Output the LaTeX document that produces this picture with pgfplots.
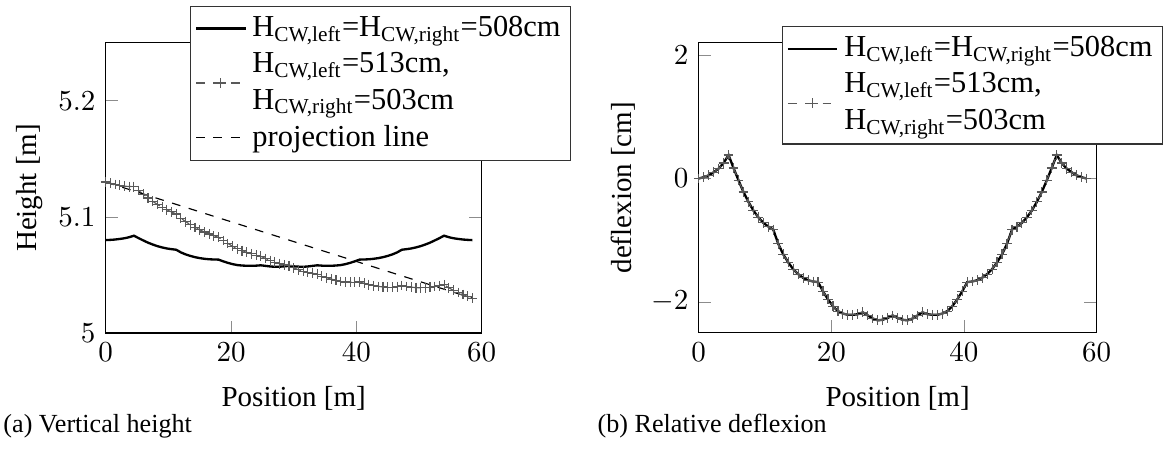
\documentclass[border=0pt]{standalone}
\usepackage{fontspec}
\setmainfont{Liberation Serif}
\usepackage{pgfplots}
\usepackage{pgfplotstable}
\pgfplotsset{compat=1.18}
\pgfplotstableread{
x d hs ha
0.00 0.00 5.0800 5.1300
0.75 0.02 5.0802 5.1289
1.50 0.05 5.0805 5.1279
2.25 0.10 5.0810 5.1272
3.00 0.16 5.0816 5.1265
3.75 0.25 5.0825 5.1261
4.50 0.38 5.0838 5.1261
5.25 0.17 5.0817 5.1227
6.00 -0.03 5.0797 5.1194
6.75 -0.22 5.0778 5.1163
7.50 -0.38 5.0762 5.1134
8.25 -0.52 5.0748 5.1107
9.00 -0.63 5.0737 5.1083
9.75 -0.72 5.0728 5.1061
10.50 -0.78 5.0722 5.1043
11.25 -0.83 5.0717 5.1025
12.00 -1.06 5.0694 5.0989
12.75 -1.23 5.0677 5.0959
13.50 -1.36 5.0664 5.0933
14.25 -1.47 5.0653 5.0909
15.00 -1.55 5.0645 5.0889
15.75 -1.61 5.0639 5.0870
16.50 -1.65 5.0635 5.0853
17.25 -1.67 5.0633 5.0838
18.00 -1.68 5.0632 5.0824
18.75 -1.83 5.0617 5.0797
19.50 -1.96 5.0604 5.0771
20.25 -2.07 5.0593 5.0747
21.00 -2.15 5.0585 5.0726
21.75 -2.19 5.0581 5.0709
22.50 -2.21 5.0579 5.0694
23.25 -2.21 5.0579 5.0682
24.00 -2.20 5.0580 5.0670
24.75 -2.17 5.0583 5.0660
25.50 -2.22 5.0578 5.0642
26.25 -2.27 5.0573 5.0624
27.00 -2.30 5.0570 5.0609
27.75 -2.29 5.0571 5.0597
28.50 -2.26 5.0574 5.0587
29.25 -2.22 5.0578 5.0578
30.00 -2.26 5.0574 5.0561
30.75 -2.29 5.0571 5.0545
31.50 -2.30 5.0570 5.0532
32.25 -2.27 5.0573 5.0522
33.00 -2.22 5.0578 5.0514
33.75 -2.17 5.0583 5.0506
34.50 -2.20 5.0580 5.0490
35.25 -2.21 5.0579 5.0476
36.00 -2.21 5.0579 5.0464
36.75 -2.19 5.0581 5.0453
37.50 -2.15 5.0585 5.0444
38.25 -2.07 5.0593 5.0439
39.00 -1.96 5.0604 5.0437
39.75 -1.83 5.0617 5.0438
40.50 -1.68 5.0632 5.0440
41.25 -1.67 5.0633 5.0428
42.00 -1.65 5.0635 5.0417
42.75 -1.61 5.0639 5.0408
43.50 -1.55 5.0645 5.0401
44.25 -1.47 5.0653 5.0397
45.00 -1.36 5.0664 5.0395
45.75 -1.23 5.0677 5.0395
46.50 -1.06 5.0694 5.0399
47.25 -0.83 5.0717 5.0409
48.00 -0.78 5.0722 5.0401
48.75 -0.72 5.0728 5.0395
49.50 -0.63 5.0737 5.0391
50.25 -0.52 5.0748 5.0389
51.00 -0.38 5.0762 5.0390
51.75 -0.22 5.0778 5.0393
52.50 -0.03 5.0797 5.0400
53.25 0.17 5.0817 5.0407
54.00 0.38 5.0838 5.0415
54.75 0.25 5.0825 5.0389
55.50 0.16 5.0816 5.0367
56.25 0.10 5.0810 5.0349
57.00 0.05 5.0805 5.0331
57.75 0.02 5.0802 5.0315
58.50 0.00 5.0800 5.0300
}\datatable
\pgfplotstableread{
x p
0 5.13
58.5 5.03
}\projtable
\pgfplotsset{
  myax/.style={
    scale only axis,
    xmin=0, xmax=60,
    xtick={0,20,40,60},
    tick style={black!45},
    tick label style={font=\fontsize{9.6}{11}\selectfont},
    label style={font=\fontsize{10}{12}\selectfont},
    every axis y label/.append style={yshift=-1.5pt},
    every axis x label/.append style={yshift=-1.7pt},
    xlabel={Position [m]},
    legend cell align=left,
    legend style={font=\fontsize{10.5}{12.6}\selectfont, draw=black!80, fill=white,
      cells={align=left}, anchor=north west, inner sep=1.5pt},
  },
  ser1/.style={black, thick, no marks},
  ser2/.style={black!65, dashed, mark=+, mark size=1.7pt, mark options={solid, black!65}},
}
\begin{document}
\begin{tikzpicture}[x=1pt,y=1pt]
\useasboundingbox (0,0) rectangle (401.03,156.9);
\begin{axis}[myax,
  at={(36.45pt,42.07pt)}, anchor=south west,
  width=129.66pt, height=100.1pt,
  ymin=5, ymax=5.25, ytick={5,5.1,5.2},
  yticklabels={$5$,$5.1$,$5.2$},
  ylabel={Height [m]},
  legend style={at={(0.224,1.128)}},
]
\addplot[ser1] table[x=x,y=hs]{\datatable};
\addlegendentry{H\textsubscript{CW,left}=H\textsubscript{CW,right}=508cm}
\addplot[ser2] table[x=x,y=ha]{\datatable};
\addlegendentry{H\textsubscript{CW,left}=513cm,\\H\textsubscript{CW,right}=503cm}
\addplot[black, thin, dashed] table[x=x,y=p]{\projtable};
\addlegendentry{projection line}
\end{axis}
\begin{axis}[myax,
  at={(240.93pt,42.17pt)}, anchor=south west,
  width=137.17pt, height=100pt,
  ymin=-2.5, ymax=2.2, ytick={-2,0,2},
  ylabel={deflexion [cm]},
  legend style={at={(0.209,1.058)}},
]
\addplot[ser1] table[x=x,y=d]{\datatable};
\addlegendentry{H\textsubscript{CW,left}=H\textsubscript{CW,right}=508cm}
\addplot[ser2] table[x=x,y=d]{\datatable};
\addlegendentry{H\textsubscript{CW,left}=513cm,\\H\textsubscript{CW,right}=503cm\rule[-5pt]{0pt}{0pt}}
\end{axis}
\node[anchor=base west, inner sep=0pt, font=\fontsize{9}{11}\selectfont] at (1pt,7.8pt) {(a) Vertical height};
\node[anchor=base west, inner sep=0pt, font=\fontsize{9}{11}\selectfont] at (205.9pt,7.8pt) {(b) Relative deflexion};
\end{tikzpicture}
\end{document}
